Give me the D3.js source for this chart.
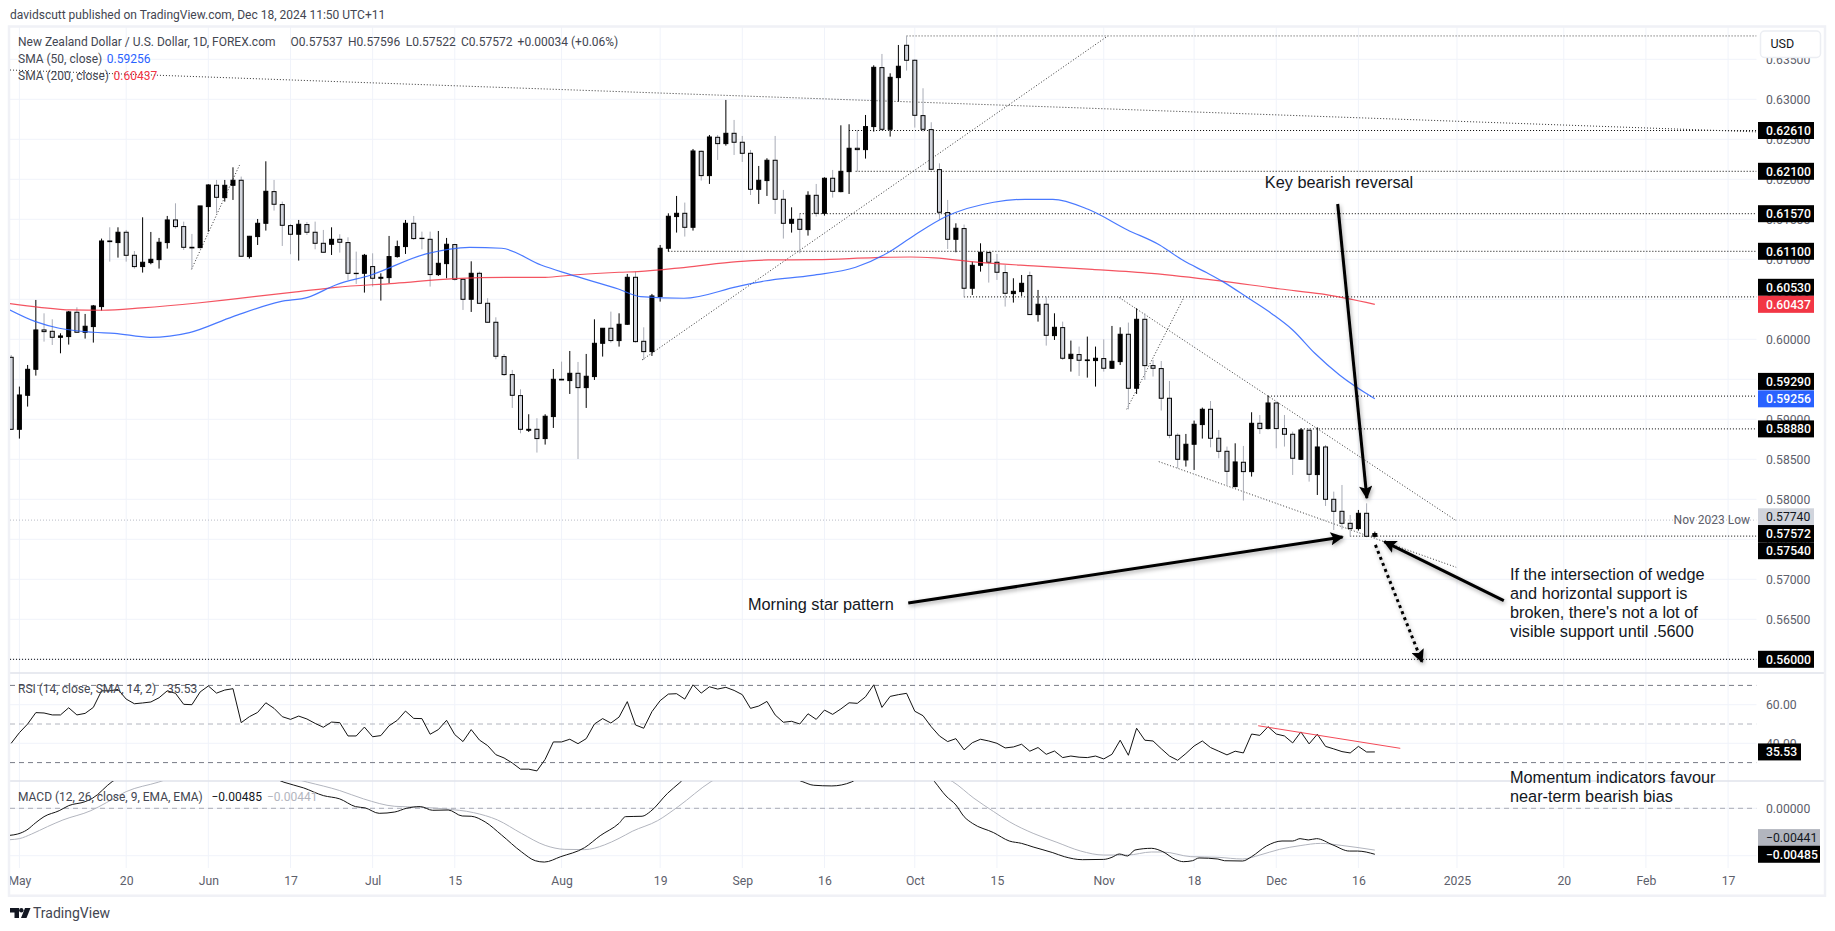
<!DOCTYPE html>
<html><head><meta charset="utf-8">
<script src="https://cdn.jsdelivr.net/npm/d3@7/dist/d3.min.js"></script>
<style>
html,body{margin:0;padding:0;background:#fff;overflow:hidden}
svg{display:block}
text{font-family:Roboto,"Noto Sans",sans-serif}
.note{font-family:"Liberation Sans",Arial,sans-serif;font-size:16.3px;fill:#131722}
</style></head><body>
<div id="chart"></div>
<script>
// ---------- data. First candle is 30 Apr 2024, index -1 ----------
const FIRST_INDEX = -1;
const openP = [
.59775,.58875,.59300,.59625,.60117,.60100,.60025,.60034,.60338,.60088,.60159,
.60409,.61229,.61209,.61338,.61050,.60909,.60959,.60996,.61209,.61492,
.61409,.61150,.61146,.61659,.61925,.61771,.61925,.61988,.61034,.61284,
.61450,.61846,.61684,.61421,.61313,.61434,.61338,.61200,.61188,.61250,
.61209,.60825,.60825,.60909,.60763,.60771,.61034,.61159,.61450,.61263,
.61250,.60809,.60946,.61184,.60750,.60500,.60825,.60450,.60213,.59784,
.59559,.59296,.58863,.58875,.58759,.59034,.59500,.59484,.59575,.59396,
.59534,.59950,.60138,.59984,.60188,.60775,.59975,.59846,.60534,.61138,
.61534,.61575,.61400,.62350,.62046,.62525,.62446,.62575,.62463,.62325,
.61875,.61984,.62238,.61750,.61450,.61500,.61371,.61800,.61575,.62013,
.61846,.62096,.62388,.62371,.62659,.63396,.62625,.63271,.63675,.63488,
.62796,.62621,.62121,.61584,.61250,.61384,.60638,.60925,.61084,.60963,
.60834,.60571,.60596,.60796,.60309,.60438,.60046,.60146,.59759,.59809,
.59734,.59734,.59759,.59638,.59721,.60063,.59388,.60250,.59671,.59634,
.59263,.58800,.58492,.58688,.58934,.59125,.58763,.58600,.58159,.58463,
.58346,.58950,.58884,.59204,.58884,.58813,.58500,.58863,.58309,.58654,
.58000,.57850,.57700,.57634,.57825,.57537];
const highP = [
.59804,.59409,.59679,.60492,.60325,.60250,.60075,.60354,.60400,.60317,.60429,
.61259,.61400,.61400,.61367,.61104,.61525,.61342,.61267,.61542,.61700,
.61471,.61317,.61667,.61938,.61992,.61992,.62150,.62034,.61292,.61504,
.62225,.61992,.61721,.61442,.61492,.61467,.61471,.61367,.61400,.61313,
.61275,.61096,.61067,.61075,.60825,.61292,.61234,.61492,.61542,.61346,
.61346,.61354,.61267,.61192,.60759,.60975,.60846,.60513,.60275,.59817,
.59617,.59375,.59063,.59013,.59063,.59629,.59721,.59854,.59717,.59817,
.60250,.60138,.60346,.60325,.60817,.60846,.60150,.60567,.61179,.61575,
.61792,.61709,.62379,.62359,.62554,.62554,.62992,.62742,.62542,.62367,
.62167,.62263,.62542,.61867,.61650,.61575,.61850,.61942,.62025,.62117,
.62675,.62688,.62617,.62804,.63425,.63567,.63325,.63679,.63792,.63500,
.63138,.62713,.62200,.61742,.61450,.61434,.60971,.61200,.61096,.61067,
.60929,.60763,.60804,.60846,.60617,.60534,.60325,.60221,.59984,.59909,
.60034,.59909,.60000,.60167,.60150,.60209,.60388,.60325,.59742,.59729,
.59479,.58825,.58817,.58984,.59146,.59229,.58867,.58659,.58700,.58667,
.59088,.59054,.59292,.59221,.59054,.58846,.58888,.58888,.58900,.58679,
.58096,.58179,.57804,.57867,.57950,.57596];
const lowP = [
.58867,.58759,.59159,.59546,.59971,.59929,.59825,.59934,.60084,.60009,.59959,
.60359,.60971,.61021,.60971,.60884,.60834,.60938,.60884,.61134,.61384,
.61117,.60875,.61138,.61346,.61575,.61721,.61742,.61034,.61009,.61179,
.61359,.61609,.61167,.61063,.60984,.61304,.61125,.61084,.61054,.61084,
.60742,.60692,.60584,.60659,.60484,.60700,.61021,.61067,.61242,.61125,
.60659,.60792,.60763,.60734,.60367,.60342,.60442,.60209,.59750,.59542,
.59142,.58825,.58842,.58584,.58684,.58892,.59488,.59317,.58504,.59142,
.59492,.59784,.59959,.59909,.60179,.59959,.59742,.59792,.60471,.61096,
.61334,.61284,.61359,.61984,.61942,.62242,.62421,.62304,.62217,.61804,
.61692,.61792,.61567,.61259,.61334,.61075,.61296,.61534,.61546,.61771,
.61838,.61817,.62096,.62259,.62596,.62609,.62534,.62971,.63359,.62646,
.62596,.62117,.61492,.61129,.61088,.60525,.60554,.60846,.60709,.60742,
.60409,.60459,.60542,.60304,.60221,.59921,.59992,.59742,.59596,.59542,
.59521,.59409,.59596,.59629,.59679,.59125,.59317,.59492,.59534,.59109,
.58763,.58388,.58409,.58367,.58759,.58650,.58513,.58179,.58150,.57984,
.58284,.58817,.58875,.58638,.58659,.58304,.58492,.58221,.58054,.57917,
.57617,.57625,.57534,.57609,.57525,.57522];
const closeP = [
.58875,.59304,.59625,.60117,.60096,.60025,.60042,.60342,.60088,.60163,.60417,
.61229,.61221,.61338,.61050,.60909,.60963,.61000,.61213,.61492,.61409,
.61150,.61142,.61667,.61929,.61775,.61925,.61988,.61038,.61288,.61450,
.61850,.61688,.61425,.61313,.61438,.61338,.61200,.61088,.61250,.61213,
.60825,.60821,.61050,.60763,.60775,.61034,.61159,.61450,.61259,.61259,
.60809,.60950,.61188,.60750,.60500,.60825,.60450,.60213,.59788,.59559,
.59300,.58875,.58875,.58759,.59038,.59500,.59492,.59575,.59396,.59538,
.59950,.60138,.59984,.60188,.60775,.59971,.59846,.60542,.61138,.61538,
.61575,.61400,.62354,.62046,.62529,.62446,.62575,.62463,.62325,.61875,
.61988,.62238,.61750,.61450,.61500,.61375,.61800,.61575,.62013,.61850,
.62100,.62388,.62371,.62659,.63400,.62625,.63275,.63413,.63488,.62800,
.62625,.62125,.61588,.61250,.61388,.60638,.60925,.61088,.60963,.60838,
.60575,.60600,.60700,.60309,.60438,.60050,.60150,.59763,.59813,.59738,
.59742,.59763,.59638,.59725,.60063,.59388,.60250,.59671,.59638,.59263,
.58800,.58500,.58688,.58938,.59125,.58763,.58600,.58350,.58467,.58346,
.58950,.58884,.59204,.58884,.58813,.58513,.58867,.58313,.58654,.58000,
.57850,.57700,.57634,.57825,.57538,.57572];

const sma50Idx = [-1.15,1.97,4.85,8.99,11.58,15.9,20.7,26,31.76,35.1,38.5,42.8,49.5,54.8,58.7,63.5,66.8,73,75.6,80.9,87.4,90.7,96.5,101.8,105.6,109,112.8,118.6,122.4,125.8,130.1,134.9,138.8,141.7,144.5,146.5,149.5,152.5,155,157.7,160.7,165];
const sma50Val = [.60367,.60221,.60138,.60088,.60075,.60025,.60084,.60284,.60471,.60525,.60679,.60804,.61067,.61150,.61138,.60929,.60817,.60625,.60534,.60513,.60659,.60729,.60800,.60900,.61075,.61304,.61534,.61713,.61750,.61750,.61625,.61367,.61179,.60984,.60834,.60721,.60521,.60317,.60117,.59825,.59554,.59256];
const sma200Idx = [-1.15,2.45,6.3,10.1,14.9,21.7,26.5,33.7,38.5,45.7,52.9,59.2,64,67.3,73,75.3,81.1,87.4,91.2,97,104.2,108.5,111.4,116.2,123.4,130.6,137.8,145.9,153.5,158.5,165];
const sma200Val = [.60446,.60400,.60367,.60363,.60392,.60454,.60509,.60592,.60650,.60700,.60759,.60775,.60775,.60804,.60838,.60846,.60900,.60971,.60992,.60996,.61021,.61029,.61017,.60967,.60917,.60875,.60825,.60734,.60629,.60567,.60437];

const rsiVal = [
40.0,45.5,50.0,55.9,55.7,54.7,54.7,58.4,54.7,55.5,58.6,
67.2,67.2,67.9,62.9,60.5,60.9,61.4,63.6,67.2,65.9,
60.2,60.0,66.6,69.7,66.0,67.6,68.3,50.7,53.8,56.0,
61.0,58.1,53.8,52.4,54.1,52.6,50.3,48.3,51.0,50.7,
43.8,43.8,48.4,43.4,44.0,49.1,51.9,56.7,52.9,52.8,
44.7,47.1,51.9,44.5,40.9,47.1,41.7,38.8,34.1,32.4,
29.8,26.6,26.6,25.7,31.7,40.7,40.7,42.1,39.8,42.4,
50.0,52.8,50.5,53.6,61.6,49.5,47.8,56.4,62.1,65.5,
65.7,62.9,70.3,66.0,69.3,68.1,69.0,67.4,65.2,58.1,
59.3,61.7,54.7,50.9,51.4,50.0,55.3,52.4,57.2,55.0,
57.8,61.0,60.7,64.1,70.3,58.6,64.3,65.2,65.9,56.6,
54.3,48.6,43.8,40.9,42.4,36.6,40.3,42.1,41.2,40.0,
37.6,38.1,39.5,35.9,37.8,34.3,36.0,32.6,33.4,32.8,
32.6,33.4,31.9,34.3,41.6,33.8,47.8,41.6,41.2,37.2,
33.4,31.2,34.7,38.6,41.2,37.8,35.9,34.0,35.9,35.0,
44.8,44.1,48.6,44.8,43.8,40.2,45.9,39.7,44.7,38.4,
37.1,35.7,35.0,38.4,35.5,35.53];

const macdIdx = [-1.15,-0.2,0.9,2,3,4.85,6,8,8.9,11.3,14,20,27,32.2,34.6,37,39,40.9,42.1,43.8,45.7,47.1,48.8,50.3,52.2,53.9,55,56.7,58.7,61.1,62.8,63.9,65.9,68.8,70.7,73,73.8,75.8,76.8,78.9,80.4,84,90,95.3,96.7,98.9,101.3,105,108,111.4,112.8,114,115,116,118.6,120.5,122,123.4,125.8,127.2,129.4,132,133,133.9,134.9,135.8,137.8,139.2,140.7,141.7,142.8,143.6,145.9,146.7,148.9,150,151.8,153.7,155,155.9,156.9,157.9,159.9,161.9,162.9,165];
const macdVal = [-.00285,-.00271,-.00229,-.00151,-.00088,-.00025,.00028,.00070,.00106,.00282,.00400,.00520,.00480,.00275,.00215,.00134,.00099,.00018,.00004,-.00053,-.00039,.00000,.00018,-.00021,-.00018,-.00081,-.00084,-.00144,-.00282,-.00458,-.00553,-.00567,-.00510,-.00415,-.00289,-.00158,-.00088,-.00084,-.00035,.00158,.00271,.00550,.00480,.00282,.00243,.00236,.00278,.00600,.00620,.00282,.00130,.00035,-.00088,-.00158,-.00257,-.00345,-.00370,-.00408,-.00468,-.00510,-.00542,-.00539,-.00517,-.00482,-.00503,-.00440,-.00422,-.00458,-.00539,-.00563,-.00553,-.00524,-.00535,-.00553,-.00556,-.00510,-.00398,-.00345,-.00345,-.00320,-.00334,-.00320,-.00387,-.00451,-.00451,-.00485];
const signalIdx = [-1.15,0,1.5,3.4,5.3,8.7,10.6,13,16.9,22,27,35.1,39,41.9,45.7,48.8,51.9,55.3,58.2,61.1,64,66.4,68.8,71.2,73,74.6,77.7,80.2,84.2,90,96,101,106,113.6,116.2,118.6,120.5,123.4,126.3,129.2,132,134.9,137.8,139.2,142.6,145.9,148.9,151,153.4,155.9,158.4,160.9,165];
const signalVal = [-.00331,-.00320,-.00271,-.00194,-.00123,-.00025,.00060,.00176,.00275,.00420,.00430,.00275,.00187,.00099,.00021,.00011,-.00007,-.00046,-.00123,-.00264,-.00391,-.00433,-.00436,-.00387,-.00317,-.00243,-.00130,.00018,.00282,.00480,.00430,.00420,.00480,.00282,.00106,-.00035,-.00141,-.00264,-.00359,-.00451,-.00493,-.00493,-.00461,-.00461,-.00510,-.00517,-.00535,-.00493,-.00433,-.00394,-.00370,-.00391,-.00441];

const timeTickIdx = [0,13,23,33,43,53,66,78,88,98,109,119,132,143,153,163,175,188,198,208];
const timeTickText = ["May","20","Jun","17","Jul","15","Aug","19","Sep","16","Oct","15","Nov","18","Dec","16","2025","20","Feb","17"];
const priceTicks = [.635,.63,.625,.62,.615,.61,.605,.6,.595,.59,.585,.58,.575,.57,.565,.56];
const rsiTicks = [60,40];
const rsiBands = [70,50,30];
const macdTicks = [0,-.005];

const levelPrice = [.6261,.621,.6157,.611,.6053,.5929,.5888,.5754,.56];
const levelStart = [101,101.8,95,79,115,152,156,162,-1.14];
const topLevelPrice = .63792, topLevelStart = 108;
const nov23Low = .5774;
// trend lines as [index, price, index, price]
const trendLines = [
 [-1.14,.63366,212,.62591],
 [75.8,.59742,132.5,.63792],
 [20.95,.60875,26.8,.62179],
 [134.8,.59125,141.7,.60513],
 [133.9,.60521,174.9,.57734],
 [138.7,.58471,174.9,.57150]];
const arrowLines = [
 [160.48,.61691,164.03,.58016],
 [108.2,.56704,161.07,.57529],
 [180.7,.56733,166.15,.57470]];
const dottedArrow = [165.07,.5743,170.74,.5597];
const rsiTrend = [150.8,49.1,168.1,37.4];

// ---------- layout ----------
const W=1835,H=931;
const paneL=10,paneR=1756.5,frameR=1825,mainT=27,mainB=673,rsiB=781,macdB=868;
const x=d3.scaleLinear().domain([0,163]).range([19.4,1358.4]);
const y=d3.scaleLinear().domain([.63,.56]).range([99.3,659.3]);
const yR=d3.scaleLinear().domain([60,40]).range([704.7,743.3]);
const yM=d3.scaleLinear().domain([0,-.005]).range([808.3,855.7]);

const svg=d3.select("#chart").append("svg").attr("width",W).attr("height",H);
const defs=svg.append("defs");
function clip(id,a,b,l=paneL,r=paneR){defs.append("clipPath").attr("id",id).append("rect").attr("x",l).attr("y",a).attr("width",r-l).attr("height",b-a);}
clip("cMain",mainT,mainB);clip("cRsi",mainB,rsiB);clip("cMacd",rsiB,macdB);clip("cTime",macdB,896,paneL,frameR);
const sh=defs.append("filter").attr("id","shadow").attr("x","-20%").attr("y","-20%").attr("width","140%").attr("height","140%");
sh.append("feDropShadow").attr("dx",1).attr("dy",2).attr("stdDeviation",2).attr("flood-color","#000").attr("flood-opacity",.35);
defs.append("marker").attr("id","head").attr("viewBox","0 0 10 10").attr("refX",9).attr("refY",5)
  .attr("markerWidth",5).attr("markerHeight",4.4).attr("orient","auto")
  .append("path").attr("d","M0,0 L10,5 L0,10 L2,5 Z").attr("fill","#000");

// gridlines
const GRID="#f0f3fa";
const g=svg.append("g").attr("stroke",GRID).attr("stroke-width",1);
timeTickIdx.forEach(i=>g.append("line").attr("x1",x(i)).attr("x2",x(i)).attr("y1",mainT).attr("y2",macdB));
priceTicks.forEach(p=>g.append("line").attr("x1",paneL).attr("x2",paneR).attr("y1",y(p)).attr("y2",y(p)));
rsiTicks.forEach(p=>g.append("line").attr("x1",paneL).attr("x2",paneR).attr("y1",yR(p)).attr("y2",yR(p)));
macdTicks.forEach(p=>g.append("line").attr("x1",paneL).attr("x2",paneR).attr("y1",yM(p)).attr("y2",yM(p)));

// axes
function axisStyle(sel){sel.select(".domain").remove();sel.selectAll("line").remove();
  sel.selectAll("text").attr("fill","#5d606b").style("font-size","12.2px");}
svg.append("g").attr("transform","translate(1763,0)").call(d3.axisRight(y).tickValues(priceTicks).tickFormat(d3.format(".5f")).tickSize(0).tickPadding(3)).call(axisStyle);
svg.append("g").attr("transform","translate(1763,0)").call(d3.axisRight(yR).tickValues(rsiTicks).tickFormat(d3.format(".2f")).tickSize(0).tickPadding(3)).call(axisStyle);
svg.append("g").attr("transform","translate(1763,0)").call(d3.axisRight(yM).tickValues(macdTicks).tickFormat(v=>v===0?"0.00000":"\u22120.00500").tickSize(0).tickPadding(3)).call(axisStyle);
svg.append("g").attr("clip-path","url(#cTime)").append("g").attr("transform","translate(0,873.5)")
  .call(d3.axisBottom(x).tickValues(timeTickIdx).tickFormat((d,k)=>timeTickText[k]).tickSize(0).tickPadding(3)).call(axisStyle);

// panes separators / frame
const sep=svg.append("g").attr("stroke","#e0e3eb").attr("stroke-width",1.5);
[mainB,rsiB].forEach(v=>sep.append("line").attr("x1",paneL).attr("x2",frameR).attr("y1",v).attr("y2",v));
svg.append("rect").attr("x",9).attr("y",26.5).attr("width",frameR-9).attr("height",869.2).attr("fill","none").attr("stroke","#f0f1f6").attr("stroke-width",2.5);

// main pane
const main=svg.append("g").attr("clip-path","url(#cMain)");
const candles=openP.map((o,k)=>({i:k+FIRST_INDEX,o,h:highP[k],l:lowP[k],c:closeP[k]}));
const BW=4;
main.append("line").attr("x1",paneL).attr("x2",paneR).attr("y1",y(nov23Low)).attr("y2",y(nov23Low)).attr("stroke","#b9bcc6").attr("stroke-dasharray","1 2");
main.append("line").attr("x1",x(topLevelStart)).attr("x2",paneR).attr("y1",y(topLevelPrice)).attr("y2",y(topLevelPrice)).attr("stroke","#333").attr("stroke-width",.9).attr("stroke-dasharray","1 2");
levelPrice.forEach((p,k)=>main.append("line").attr("x1",x(levelStart[k])).attr("x2",paneR).attr("y1",y(p)).attr("y2",y(p)).attr("stroke","#000").attr("stroke-width",1).attr("stroke-dasharray","1 2"));
trendLines.forEach(t=>main.append("line").attr("x1",x(t[0])).attr("y1",y(t[1])).attr("x2",x(t[2])).attr("y2",y(t[3])).attr("stroke","#333").attr("stroke-width",1).attr("stroke-dasharray","1 2"));
const cg=main.append("g").selectAll("g").data(candles).join("g");
cg.append("line").attr("x1",d=>x(d.i)).attr("x2",d=>x(d.i)).attr("y1",d=>y(d.h)).attr("y2",d=>y(d.l))
  .attr("stroke",d=>d.c>=d.o?"#000":"#a9acb6").attr("stroke-width",1);
cg.append("rect").attr("x",d=>x(d.i)-BW/2).attr("width",BW)
  .attr("y",d=>y(Math.max(d.o,d.c))).attr("height",d=>Math.abs(y(d.o)-y(d.c)))
  .attr("fill",d=>d.c>=d.o?"#000":"#d1d4dc").attr("stroke","#000").attr("stroke-width",1);
const smaLine=d3.line().x(d=>x(d[0])).y(d=>y(d[1])).curve(d3.curveMonotoneX);
main.append("path").attr("d",smaLine(sma200Idx.map((v,k)=>[v,sma200Val[k]]))).attr("fill","none").attr("stroke","#f23645").attr("stroke-width",1.2).attr("opacity",.85);
main.append("path").attr("d",smaLine(sma50Idx.map((v,k)=>[v,sma50Val[k]]))).attr("fill","none").attr("stroke","#2962ff").attr("stroke-width",1.2).attr("opacity",.85);

// RSI
const rsi=svg.append("g").attr("clip-path","url(#cRsi)");
rsiBands.forEach(b=>rsi.append("line").attr("x1",paneL).attr("x2",paneR).attr("y1",yR(b)).attr("y2",yR(b)).attr("stroke",b===50?"#b2b5be":"#787b86").attr("stroke-width",1).attr("stroke-dasharray","5 4"));
rsi.append("path").attr("d",d3.line().x((d,k)=>x(k+FIRST_INDEX)).y(d=>yR(d))(rsiVal)).attr("fill","none").attr("stroke","#131313").attr("stroke-width",1);
rsi.append("line").attr("x1",x(rsiTrend[0])).attr("y1",yR(rsiTrend[1])).attr("x2",x(rsiTrend[2])).attr("y2",yR(rsiTrend[3])).attr("stroke","#f23645").attr("stroke-width",1).attr("opacity",.9);

// MACD
const mac=svg.append("g").attr("clip-path","url(#cMacd)");
mac.append("line").attr("x1",paneL).attr("x2",paneR).attr("y1",yM(0)).attr("y2",yM(0)).attr("stroke","#a9acb6").attr("stroke-dasharray","5 4");
const macLine=d3.line().x(d=>x(d[0])).y(d=>yM(d[1])).curve(d3.curveMonotoneX);
mac.append("path").attr("d",macLine(signalIdx.map((v,k)=>[v,signalVal[k]]))).attr("fill","none").attr("stroke","#b2b5be").attr("stroke-width",1);
mac.append("path").attr("d",macLine(macdIdx.map((v,k)=>[v,macdVal[k]]))).attr("fill","none").attr("stroke","#131313").attr("stroke-width",1);

// arrows
const arrows=svg.append("g").attr("filter","url(#shadow)");
arrowLines.forEach(a=>arrows.append("line").attr("x1",x(a[0])).attr("y1",y(a[1])).attr("x2",x(a[2])).attr("y2",y(a[3])).attr("stroke","#000").attr("stroke-width",3).attr("marker-end","url(#head)"));
arrows.append("line").attr("x1",x(dottedArrow[0])).attr("y1",y(dottedArrow[1])).attr("x2",x(dottedArrow[2])).attr("y2",y(dottedArrow[3])).attr("stroke","#000").attr("stroke-width",3).attr("stroke-dasharray","3 3.5").attr("marker-end","url(#head)");

// annotations
function note(tx,ty,t){svg.append("text").attr("class","note").attr("x",tx).attr("y",ty).attr("dy",".35em").text(t);}
note(1264.8,182,"Key bearish reversal");
note(748,604,"Morning star pattern");
["If the intersection of wedge","and horizontal support is","broken, there's not a lot of","visible support until .5600"].forEach((t,k)=>note(1510,574.3+19*k,t));
["Momentum indicators favour","near-term bearish bias"].forEach((t,k)=>note(1510,777.3+19.3*k,t));
svg.append("text").attr("x",1750).attr("y",520).attr("dy",".35em").attr("text-anchor","end").attr("fill","#5d606b").style("font-size","12px").text("Nov 2023 Low");

// USD box
svg.append("rect").attr("x",1760.5).attr("y",31).attr("width",60).attr("height",26.5).attr("rx",4).attr("fill","#fff").attr("stroke","#eceef3").attr("stroke-width",1.5);
svg.append("text").attr("x",1770.5).attr("y",44).attr("dy",".35em").attr("fill","#131722").style("font-size","12.5px").text("USD");

// price labels
const labelValues=[.5774,.6261,.621,.6157,.611,.6053,.60437,.5929,.59256,.5888,.57572,.5754,.56];
const labelBg={0.5774:"#d1d4dc",0.60437:"#f23645",0.59256:"#2962ff"};
const labelNudge={0.6053:-9.6,0.5929:-14.7,0.5774:-3.3,0.5754:14.6};
const lab=svg.append("g");
function tag(cy,w,bg,fg,t){
  lab.append("rect").attr("x",1758).attr("y",cy-8.5).attr("width",w).attr("height",17).attr("fill",bg);
  lab.append("text").attr("x",1766).attr("y",cy).attr("dy",".35em").attr("fill",fg).style("font-size","12.2px").style("font-weight",bg==="#d1d4dc"||bg==="#b2b5be"?400:500).text(t);
}
labelValues.forEach(v=>tag(y(v)+(labelNudge[v]||0),56,labelBg[v]||"#000",v===.5774?"#131722":"#fff",v.toFixed(5)));
tag(yR(35.53),43,"#000","#fff","35.53");
tag(yM(-.00441)-12.5,62,"#b2b5be","#131722","\u22120.00441");
tag(yM(-.00485),62,"#000","#fff","\u22120.00485");

// legends
function leg(tx,ty,t,col){svg.append("text").attr("x",tx).attr("y",ty).attr("dy",".35em").attr("fill",col||"#434651").style("font-size","12px").text(t);}
leg(10,15,"davidscutt published on TradingView.com, Dec 18, 2024 11:50 UTC+11");
leg(18,41.7,"New Zealand Dollar / U.S. Dollar, 1D, FOREX.com");
leg(290.6,41.7,"O0.57537");leg(348,41.7,"H0.57596");leg(405.7,41.7,"L0.57522");leg(461,41.7,"C0.57572");leg(517.6,41.7,"+0.00034 (+0.06%)");
leg(18,59,"SMA (50, close)");leg(106.8,59,"0.59256","#2962ff");
leg(18,76,"SMA (200, close)");leg(113.5,76,"0.60437","#f23645");
leg(18,689,"RSI (14, close, SMA, 14, 2)");leg(167,689,"35.53");
leg(18,796.7,"MACD (12, 26, close, 9, EMA, EMA)");leg(211.5,796.7,"\u22120.00485","#131722");leg(267,796.7,"\u22120.00441","#b2b5be");

// TradingView logo
const logo=svg.append("g").attr("fill","#131722");
logo.append("path").attr("d","M10 908H19V918H14.5V912.5H10Z");
logo.append("circle").attr("cx",21.3).attr("cy",910.2).attr("r",2.2);
logo.append("path").attr("d","M25 908H30.5L26.5 918H21Z");
svg.append("text").attr("x",33).attr("y",913.5).attr("dy",".35em").attr("fill","#434651").style("font-size","14px").text("TradingView");
</script>
</body></html>
